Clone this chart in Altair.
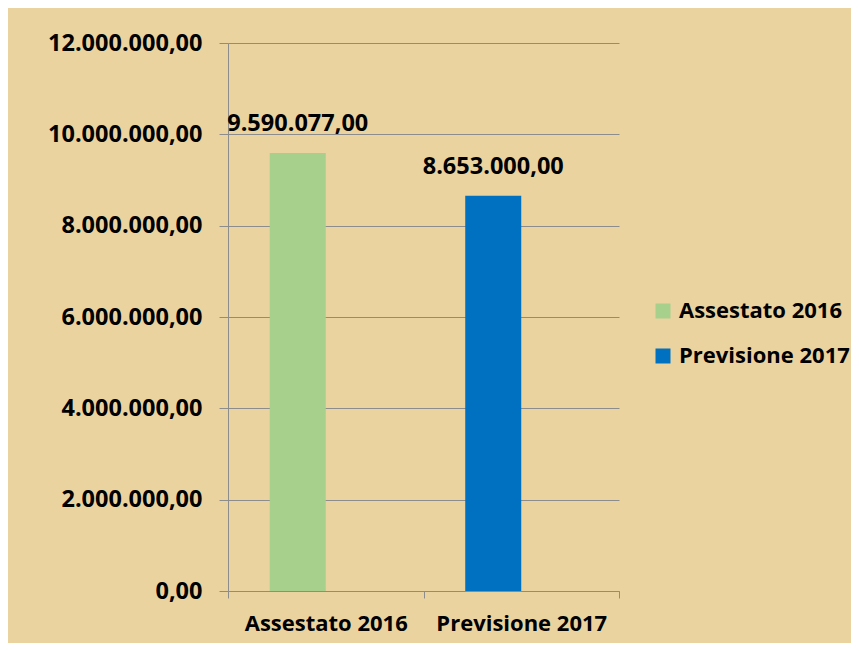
import altair as alt
import pandas as pd

categories = ["Assestato 2016", "Previsione 2017"]
series = ["Assestato 2016", "Previsione 2017"]
values = [9590077.00, 8653000.00]
slots = ["1", "1"]
slot_domain = ["1", "2"]
colors = ["#A6D08C", "#0070C0"]
y_ticks = [0, 2000000, 4000000, 6000000, 8000000, 10000000, 12000000]

df = pd.DataFrame({"categoria": categories, "serie": series, "slot": slots, "valore": values})

FONT = "Open Sans"

x = alt.X("categoria:N", sort=categories, title=None,
          scale=alt.Scale(paddingInner=0, paddingOuter=0),
          axis=alt.Axis(labelAngle=0, tickBand="extent", domainColor="#8C8C8C",
                        tickColor="#8C8C8C", tickSize=7, labelPadding=15,
                        labelFontSize=22, labelFont=FONT, labelFontWeight="bold",
                        labelColor="#000000", grid=False))
xo = alt.XOffset("slot:N",
                 scale=alt.Scale(domain=slot_domain, paddingInner=0, paddingOuter=0.745))
y = alt.Y("valore:Q", title=None,
          scale=alt.Scale(domain=[0, 12000000], nice=False),
          axis=alt.Axis(values=y_ticks, format=",.2f", domainColor="#8C8C8C",
                        tickColor="#8C8C8C", tickSize=9, labelPadding=17,
                        gridColor="#8C8C8C", gridWidth=1,
                        labelFontSize=23.5, labelFont=FONT, labelFontWeight="bold",
                        labelColor="#000000"))

color = alt.Color("serie:N", sort=series,
                  scale=alt.Scale(domain=series, range=colors),
                  legend=alt.Legend(title=None, orient="none", legendX=424, legendY=257,
                                    symbolType="square", symbolSize=225,
                                    symbolStrokeWidth=0, labelOffset=5, labelLimit=400,
                                    labelFontSize=22, labelFont=FONT,
                                    labelFontWeight="bold", labelColor="#000000",
                                    rowPadding=23, padding=0))

base = alt.Chart(df)
bars = base.mark_bar(opacity=1).encode(x=x, xOffset=xo, y=y, color=color)
labels = base.mark_text(font=FONT, fontWeight="bold", fontSize=23.5, baseline="alphabetic",
                        dy=-22, color="#000000").encode(
    x=x, xOffset=xo, y=y, text=alt.Text("valore:Q", format=",.2f"))

chart = alt.layer(bars, labels).properties(
    width=391, height=548,
    autosize=alt.AutoSizeParams(type="none"),
    padding={"left": 220, "top": 35, "right": 232, "bottom": 52},
    background="#EBD3A0",
).configure(
    locale={"number": {"decimal": ",", "thousands": ".", "grouping": [3], "currency": ["", " €"]}}
).configure_view(stroke=None)

chart.save("out.html", embed_options={"renderer": "svg", "actions": False})
